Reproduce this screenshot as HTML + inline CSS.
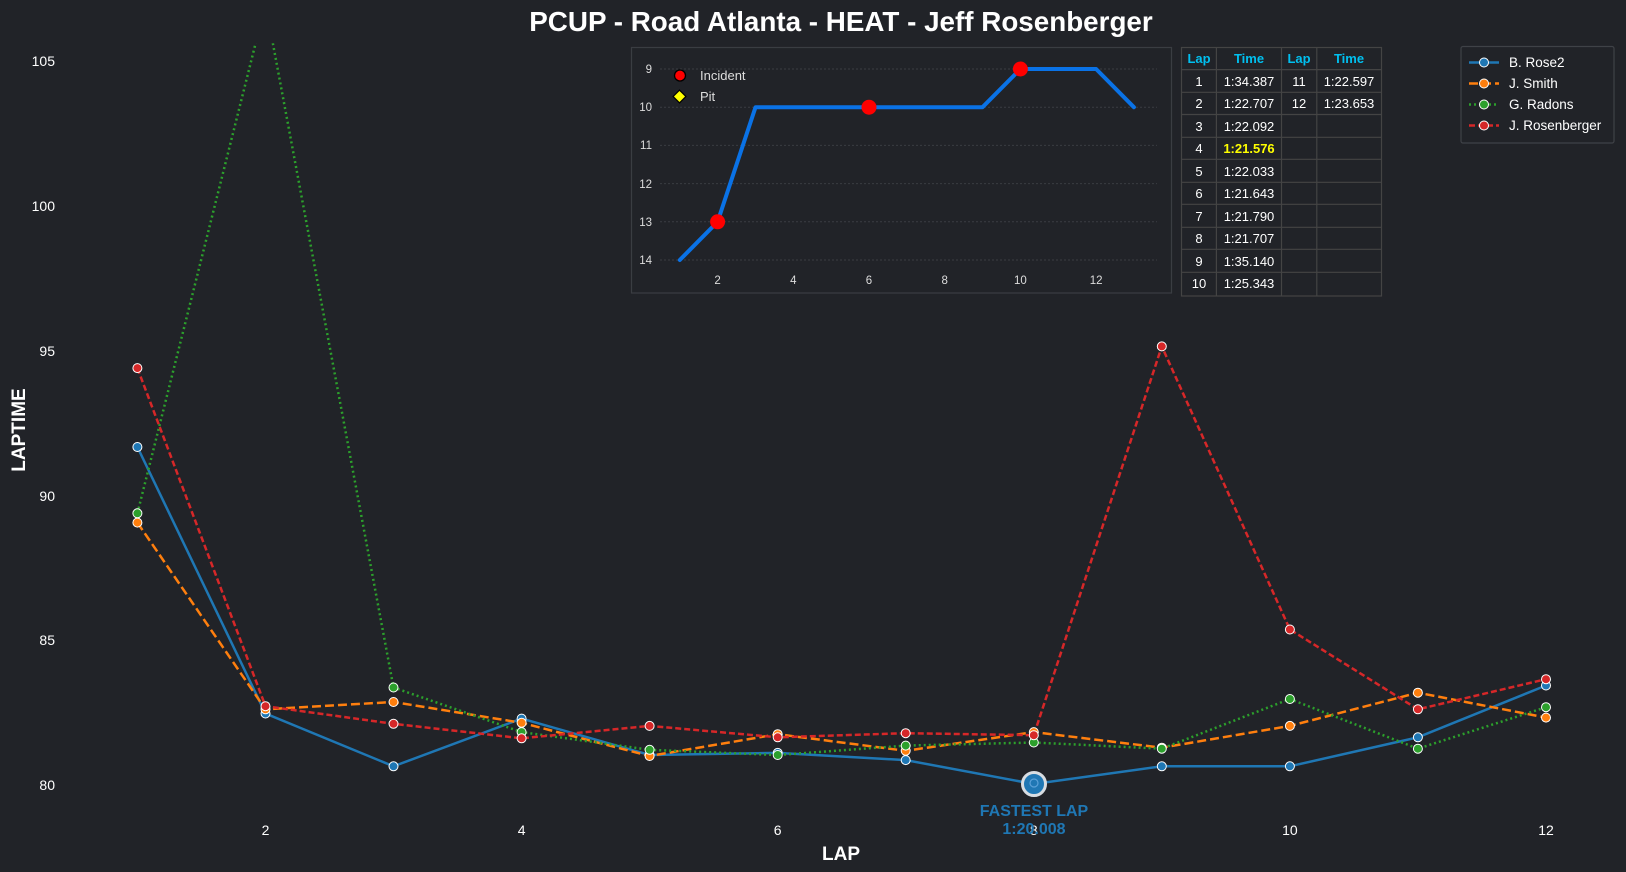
<!DOCTYPE html>
<html><head><meta charset="utf-8"><style>
html,body{margin:0;padding:0;background:#212328;}
svg{display:block;font-family:"Liberation Sans",Arial,sans-serif;}
</style></head><body>
<svg width="1626" height="872" viewBox="0 0 1626 872" xmlns="http://www.w3.org/2000/svg">
<rect width="1626" height="872" fill="#212328"/>
<defs><clipPath id="pc"><rect x="60" y="43.3" width="1566" height="800"/></clipPath></defs>
<text x="841" y="31" text-anchor="middle" fill="#fff" font-size="27.8" font-weight="bold">PCUP - Road Atlanta - HEAT - Jeff Rosenberger</text>
<g fill="#fff" font-size="14" text-anchor="end">
<text x="55" y="66">105</text><text x="55" y="211">100</text><text x="55" y="356">95</text>
<text x="55" y="501">90</text><text x="55" y="645">85</text><text x="55" y="790">80</text>
</g>
<g fill="#fff" font-size="14" text-anchor="middle">
<text x="265.5" y="835">2</text><text x="521.6" y="835">4</text><text x="777.7" y="835">6</text>
<text x="1033.8" y="835">8</text><text x="1289.9" y="835">10</text><text x="1546" y="835">12</text>
</g>
<text x="841" y="860" text-anchor="middle" fill="#fff" font-size="19" font-weight="bold">LAP</text>
<text transform="translate(25,430) rotate(-90)" text-anchor="middle" fill="#fff" font-size="19" font-weight="bold">LAPTIME</text>
<g clip-path="url(#pc)" fill="none">
<polyline stroke="#1f77b4" stroke-width="2.5" points="137.4,447 265.5,713.5 393.5,766.3 521.6,718.6 649.6,755 777.7,752.9 905.7,760.1 1033.8,784 1161.8,766.3 1289.9,766.3 1417.9,737.3 1546,685.5"/>
<polyline stroke="#ff7f0e" stroke-width="2.5" stroke-dasharray="9,4" points="137.4,522.6 265.5,709.3 393.5,702 521.6,722.8 649.6,756 777.7,734.2 905.7,750.8 1033.8,732.1 1161.8,747.7 1289.9,725.9 1417.9,692.7 1546,717.6"/>
<polyline stroke="#2ca02c" stroke-width="2.5" stroke-dasharray="2,3" points="137.4,513.3 265.5,4 393.5,687.5 521.6,732.1 649.6,749.8 777.7,755 905.7,745.6 1033.8,742.5 1161.8,748.7 1289.9,699 1417.9,748.7 1546,707.2"/>
<polyline stroke="#d62728" stroke-width="2.5" stroke-dasharray="6,3" points="137.4,368.1 265.5,706.2 393.5,723.8 521.6,738.3 649.6,725.9 777.7,737.3 905.7,733.2 1033.8,735.2 1161.8,346.4 1289.9,629.5 1417.9,709.3 1546,679.2"/>
</g>
<g stroke="#fff" stroke-width="1">
<g fill="#1f77b4"><circle cx="137.4" cy="447" r="4.5"/><circle cx="265.5" cy="713.5" r="4.5"/><circle cx="393.5" cy="766.3" r="4.5"/><circle cx="521.6" cy="718.6" r="4.5"/><circle cx="649.6" cy="755" r="4.5"/><circle cx="777.7" cy="752.9" r="4.5"/><circle cx="905.7" cy="760.1" r="4.5"/><circle cx="1161.8" cy="766.3" r="4.5"/><circle cx="1289.9" cy="766.3" r="4.5"/><circle cx="1417.9" cy="737.3" r="4.5"/><circle cx="1546" cy="685.5" r="4.5"/></g>
<g fill="#ff7f0e"><circle cx="137.4" cy="522.6" r="4.5"/><circle cx="265.5" cy="709.3" r="4.5"/><circle cx="393.5" cy="702" r="4.5"/><circle cx="521.6" cy="722.8" r="4.5"/><circle cx="649.6" cy="756" r="4.5"/><circle cx="777.7" cy="734.2" r="4.5"/><circle cx="905.7" cy="750.8" r="4.5"/><circle cx="1033.8" cy="732.1" r="4.5"/><circle cx="1161.8" cy="747.7" r="4.5"/><circle cx="1289.9" cy="725.9" r="4.5"/><circle cx="1417.9" cy="692.7" r="4.5"/><circle cx="1546" cy="717.6" r="4.5"/></g>
<g fill="#2ca02c"><circle cx="137.4" cy="513.3" r="4.5"/><circle cx="393.5" cy="687.5" r="4.5"/><circle cx="521.6" cy="732.1" r="4.5"/><circle cx="649.6" cy="749.8" r="4.5"/><circle cx="777.7" cy="755" r="4.5"/><circle cx="905.7" cy="745.6" r="4.5"/><circle cx="1033.8" cy="742.5" r="4.5"/><circle cx="1161.8" cy="748.7" r="4.5"/><circle cx="1289.9" cy="699" r="4.5"/><circle cx="1417.9" cy="748.7" r="4.5"/><circle cx="1546" cy="707.2" r="4.5"/></g>
<g fill="#d62728"><circle cx="137.4" cy="368.1" r="4.5"/><circle cx="265.5" cy="706.2" r="4.5"/><circle cx="393.5" cy="723.8" r="4.5"/><circle cx="521.6" cy="738.3" r="4.5"/><circle cx="649.6" cy="725.9" r="4.5"/><circle cx="777.7" cy="737.3" r="4.5"/><circle cx="905.7" cy="733.2" r="4.5"/><circle cx="1033.8" cy="735.2" r="4.5"/><circle cx="1161.8" cy="346.4" r="4.5"/><circle cx="1289.9" cy="629.5" r="4.5"/><circle cx="1417.9" cy="709.3" r="4.5"/><circle cx="1546" cy="679.2" r="4.5"/></g>
</g>
<circle cx="1034" cy="784" r="11.5" fill="#1f77b4" stroke="#d8dde2" stroke-width="3"/>
<circle cx="1034" cy="783" r="4" fill="none" stroke="#5aa0d8" stroke-width="1.2"/>
<g fill="#1f77b4" font-size="16" font-weight="bold" text-anchor="middle">
<text x="1034" y="816">FASTEST LAP</text><text x="1034" y="834">1:20.008</text>
</g>
<rect x="631.5" y="47.5" width="540" height="245.5" fill="#212328" stroke="#3a3d42" stroke-width="1.2"/>
<g stroke="#3a3d42" stroke-width="1" stroke-dasharray="2,2">
<line x1="660" y1="69" x2="1157" y2="69"/><line x1="660" y1="107.2" x2="1157" y2="107.2"/><line x1="660" y1="145.4" x2="1157" y2="145.4"/><line x1="660" y1="183.6" x2="1157" y2="183.6"/><line x1="660" y1="221.8" x2="1157" y2="221.8"/><line x1="660" y1="260" x2="1157" y2="260"/>
</g>
<g fill="#ddd" font-size="11.5" text-anchor="end">
<text x="652" y="73">9</text><text x="652" y="111">10</text><text x="652" y="149">11</text><text x="652" y="188">12</text><text x="652" y="226">13</text><text x="652" y="264">14</text>
</g>
<g fill="#ddd" font-size="11.5" text-anchor="middle">
<text x="717.6" y="284">2</text><text x="793.3" y="284">4</text><text x="869" y="284">6</text><text x="944.7" y="284">8</text><text x="1020.4" y="284">10</text><text x="1096.1" y="284">12</text>
</g>
<polyline fill="none" stroke="#0a72e6" stroke-width="4" stroke-linejoin="round" stroke-linecap="round" points="679.8,260 717.6,221.8 755.5,107.2 793.3,107.2 831.2,107.2 869,107.2 906.9,107.2 944.7,107.2 982.5,107.2 1020.4,69 1058.2,69 1096.1,69 1133.9,107.2"/>
<g fill="#ff0000"><circle cx="717.6" cy="221.8" r="7.5"/><circle cx="869" cy="107.2" r="7.5"/><circle cx="1020.4" cy="69" r="7.5"/></g>
<circle cx="680" cy="75.5" r="5.5" fill="#ff0000" stroke="#000" stroke-width="1.3"/>
<rect x="675" y="92" width="9" height="9" fill="#ffff00" stroke="#000" stroke-width="1.2" transform="rotate(45 679.5 96.5)"/>
<g fill="#ddd" font-size="13"><text x="700" y="80">Incident</text><text x="700" y="101">Pit</text></g>
<g stroke="#444" stroke-width="1.2" fill="none">
<rect x="1181.5" y="47.5" width="200" height="248.5"/>
<line x1="1216.4" y1="47.5" x2="1216.4" y2="296"/><line x1="1281.5" y1="47.5" x2="1281.5" y2="296"/><line x1="1316.8" y1="47.5" x2="1316.8" y2="296"/>
<line x1="1181.5" y1="69.6" x2="1381.5" y2="69.6"/><line x1="1181.5" y1="92.3" x2="1381.5" y2="92.3"/><line x1="1181.5" y1="114.5" x2="1381.5" y2="114.5"/><line x1="1181.5" y1="137.3" x2="1381.5" y2="137.3"/><line x1="1181.5" y1="159.3" x2="1381.5" y2="159.3"/><line x1="1181.5" y1="182.3" x2="1381.5" y2="182.3"/><line x1="1181.5" y1="204.3" x2="1381.5" y2="204.3"/><line x1="1181.5" y1="227.3" x2="1381.5" y2="227.3"/><line x1="1181.5" y1="249.3" x2="1381.5" y2="249.3"/><line x1="1181.5" y1="272.3" x2="1381.5" y2="272.3"/>
</g>
<g fill="#00c0f0" font-size="13" font-weight="bold" text-anchor="middle">
<text x="1199" y="63">Lap</text><text x="1249" y="63">Time</text><text x="1299" y="63">Lap</text><text x="1349" y="63">Time</text>
</g>
<g fill="#fff" font-size="13" text-anchor="middle">
<text x="1199" y="86">1</text><text x="1249" y="86">1:34.387</text><text x="1299" y="86">11</text><text x="1349" y="86">1:22.597</text>
<text x="1199" y="108">2</text><text x="1249" y="108">1:22.707</text><text x="1299" y="108">12</text><text x="1349" y="108">1:23.653</text>
<text x="1199" y="131">3</text><text x="1249" y="131">1:22.092</text>
<text x="1199" y="153">4</text><text x="1249" y="153" fill="#ffff00" font-weight="bold">1:21.576</text>
<text x="1199" y="176">5</text><text x="1249" y="176">1:22.033</text>
<text x="1199" y="198">6</text><text x="1249" y="198">1:21.643</text>
<text x="1199" y="221">7</text><text x="1249" y="221">1:21.790</text>
<text x="1199" y="243">8</text><text x="1249" y="243">1:21.707</text>
<text x="1199" y="266">9</text><text x="1249" y="266">1:35.140</text>
<text x="1199" y="288">10</text><text x="1249" y="288">1:25.343</text>
</g>
<rect x="1461" y="46.5" width="153" height="96.5" fill="#212328" stroke="#3f4247" stroke-width="1.2" rx="2"/>
<line x1="1469" y1="62.5" x2="1499" y2="62.5" stroke="#1f77b4" stroke-width="2.5"/>
<line x1="1469" y1="83.5" x2="1499" y2="83.5" stroke="#ff7f0e" stroke-width="2.5" stroke-dasharray="9,4"/>
<line x1="1469" y1="104.5" x2="1499" y2="104.5" stroke="#2ca02c" stroke-width="2.5" stroke-dasharray="2,3"/>
<line x1="1469" y1="125.5" x2="1499" y2="125.5" stroke="#d62728" stroke-width="2.5" stroke-dasharray="6,3"/>
<g stroke="#fff" stroke-width="1"><circle cx="1484" cy="62.5" r="4.5" fill="#1f77b4"/><circle cx="1484" cy="83.5" r="4.5" fill="#ff7f0e"/><circle cx="1484" cy="104.5" r="4.5" fill="#2ca02c"/><circle cx="1484" cy="125.5" r="4.5" fill="#d62728"/></g>
<g fill="#fff" font-size="13.5"><text x="1509" y="67">B. Rose2</text><text x="1509" y="88">J. Smith</text><text x="1509" y="109">G. Radons</text><text x="1509" y="130">J. Rosenberger</text></g>
</svg>
</body></html>
